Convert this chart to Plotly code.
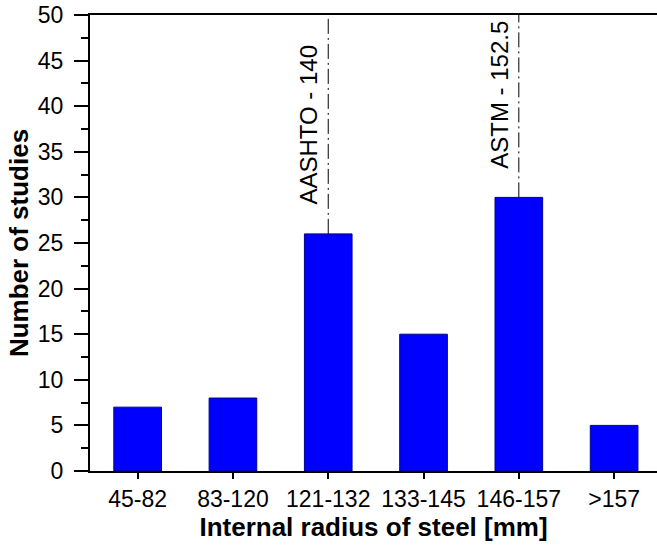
import plotly.graph_objects as go

# Histogram of reported internal bend radii
categories = ["45-82", "83-120", "121-132", "133-145", "146-157", ">157"]
counts = [7, 8, 26, 15, 30, 5]

# Code-specified radii, drawn above the bin that contains them
code_labels = ["AASHTO - 140", "ASTM - 152.5"]
code_bins = ["121-132", "146-157"]

FONT = "Liberation Sans, Arial, sans-serif"
Y_MAX = 50

fig = go.Figure()

fig.add_trace(go.Bar(
    x=list(range(len(categories))),
    y=counts,
    width=0.5,
    marker=dict(color="#0000FF", line=dict(color="#00008B", width=1)),
    showlegend=False,
))

for label, b in zip(code_labels, code_bins):
    i = categories.index(b)
    top = counts[i]
    # dash-dot reference line from the bar top to the upper frame
    fig.add_trace(go.Scatter(
        x=[i, i], y=[top, Y_MAX],
        mode="lines",
        line=dict(color="black", width=1, dash="15px,4px,2px,4px"),
        showlegend=False, hoverinfo="skip",
    ))
    fig.add_annotation(
        x=i, y=top,
        xref="x", yref="y",
        text=label, textangle=-90, showarrow=False,
        xanchor="right", yanchor="bottom", xshift=-4, yshift=27,
        font=dict(family=FONT, size=24, color="black"),
    )

fig.update_layout(
    width=657, height=558,
    margin=dict(l=90, r=0, t=15, b=87),
    paper_bgcolor="white", plot_bgcolor="white",
    font=dict(family=FONT, size=23, color="black"),
)

fig.update_xaxes(
    range=[-0.5, 5.45],
    tickmode="array",
    tickvals=list(range(len(categories))),
    ticktext=categories,
    showline=True, linecolor="black", linewidth=2, mirror=True,
    ticks="outside", ticklen=6, tickwidth=1.5, tickcolor="black",
    showgrid=False, zeroline=False,
    tickfont=dict(family=FONT, size=23),
    title=dict(text="<b>Internal radius of steel [mm]</b>",
               font=dict(family=FONT, size=26), standoff=6),
)

fig.update_yaxes(
    range=[0, Y_MAX],
    dtick=5, tick0=0,
    showline=True, linecolor="black", linewidth=2, mirror=False,
    ticks="outside", ticklen=14, tickwidth=1.5, tickcolor="black",
    ticklabelstandoff=6,
    minor=dict(dtick=2.5, ticks="outside", ticklen=7, tickwidth=1.5, tickcolor="black"),
    showgrid=False, zeroline=False,
    tickfont=dict(family=FONT, size=23),
    title=dict(text="<b>Number of studies</b>",
               font=dict(family=FONT, size=26), standoff=2),
)

fig.write_html("out.html")
